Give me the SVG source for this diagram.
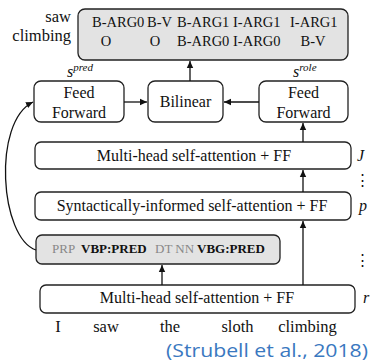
<svg xmlns="http://www.w3.org/2000/svg" width="374" height="363" viewBox="0 0 374 363">
<defs>
<style>
.box{fill:#fff;stroke:#222;stroke-width:1.3}
.gbox{fill:#e3e3e3;stroke:#222;stroke-width:1.3}
.ln{stroke:#111;stroke-width:1.3;fill:none}
</style>
<marker id="ah" markerWidth="8" markerHeight="8" refX="7" refY="4" orient="auto" markerUnits="userSpaceOnUse">
<path d="M0,0.8 L7,4 L0,7.2 Z" fill="#111"/>
</marker>
</defs>
<rect width="374" height="363" fill="#fff"/>

<g id="output">
<text x="71" y="22" font-size="16.5" text-anchor="end" style="font-family:'Liberation Serif',serif" fill="#111">saw</text>
<text x="71" y="41" font-size="16.5" text-anchor="end" style="font-family:'Liberation Serif',serif" fill="#111">climbing</text>
<rect class="gbox" x="78" y="9" width="270" height="51" rx="7"/>
<text x="92" y="27" font-size="14.5" style="font-family:'Liberation Serif',serif" fill="#111">B-ARG0</text>
<text x="147" y="27" font-size="14.5" style="font-family:'Liberation Serif',serif" fill="#111">B-V</text>
<text x="177" y="27" font-size="14.5" style="font-family:'Liberation Serif',serif" fill="#111">B-ARG1</text>
<text x="233" y="27" font-size="14.5" style="font-family:'Liberation Serif',serif" fill="#111">I-ARG1</text>
<text x="290" y="27" font-size="14.5" style="font-family:'Liberation Serif',serif" fill="#111">I-ARG1</text>
<text x="106" y="46" font-size="14.5" text-anchor="middle" style="font-family:'Liberation Serif',serif" fill="#111">O</text>
<text x="155" y="46" font-size="14.5" text-anchor="middle" style="font-family:'Liberation Serif',serif" fill="#111">O</text>
<text x="177" y="46" font-size="14.5" style="font-family:'Liberation Serif',serif" fill="#111">B-ARG0</text>
<text x="233" y="46" font-size="14.5" style="font-family:'Liberation Serif',serif" fill="#111">I-ARG0</text>
<text x="313" y="46" font-size="14.5" text-anchor="middle" style="font-family:'Liberation Serif',serif" fill="#111">B-V</text>
</g>

<g id="ff-pred">
<text x="67" y="77" font-size="16" font-style="italic" style="font-family:'Liberation Serif',serif" fill="#111">s<tspan font-size="11" dy="-6">pred</tspan></text>
<rect class="box" x="34" y="81" width="90" height="41" rx="7"/>
<text x="79" y="98" font-size="16" text-anchor="middle" style="font-family:'Liberation Serif',serif" fill="#111">Feed</text>
<text x="79" y="118" font-size="16" text-anchor="middle" style="font-family:'Liberation Serif',serif" fill="#111">Forward</text>
</g>

<g id="bilinear">
<rect class="box" x="148" y="81" width="75" height="41" rx="7"/>
<text x="185.5" y="107" font-size="16" text-anchor="middle" style="font-family:'Liberation Serif',serif" fill="#111">Bilinear</text>
</g>

<g id="ff-role">
<text x="293" y="77" font-size="16" font-style="italic" style="font-family:'Liberation Serif',serif" fill="#111">s<tspan font-size="11" dy="-6">role</tspan></text>
<rect class="box" x="259" y="81" width="89" height="41" rx="7"/>
<text x="303.5" y="98" font-size="16" text-anchor="middle" style="font-family:'Liberation Serif',serif" fill="#111">Feed</text>
<text x="303.5" y="118" font-size="16" text-anchor="middle" style="font-family:'Liberation Serif',serif" fill="#111">Forward</text>
</g>

<g id="mhsa-j">
<rect class="box" x="35" y="142" width="316" height="27" rx="6"/>
<text x="194" y="161" font-size="16" text-anchor="middle" style="font-family:'Liberation Serif',serif" fill="#111">Multi-head self-attention + FF</text>
<text x="357" y="161" font-size="16" font-style="italic" style="font-family:'Liberation Serif',serif" fill="#111">J</text>
<text x="362" y="185" font-size="15" text-anchor="middle" style="font-family:'Liberation Serif',serif" fill="#111">⋮</text>
</g>

<g id="syntactic">
<rect class="box" x="35" y="192" width="316" height="28" rx="6"/>
<text x="192" y="211" font-size="16" text-anchor="middle" style="font-family:'Liberation Serif',serif" fill="#111">Syntactically-informed self-attention + FF</text>
<text x="359" y="211" font-size="16" font-style="italic" style="font-family:'Liberation Serif',serif" fill="#111">p</text>
</g>

<g id="pos">
<rect class="gbox" x="36" y="235" width="244" height="29" rx="6"/>
<text x="52" y="253" font-size="13" style="font-family:'Liberation Serif',serif" fill="#111"><tspan fill="#888">PRP</tspan><tspan font-weight="bold" x="81">VBP:PRED</tspan><tspan fill="#888" x="155">DT NN</tspan><tspan font-weight="bold" x="197">VBG:PRED</tspan></text>
<text x="362" y="265" font-size="15" text-anchor="middle" style="font-family:'Liberation Serif',serif" fill="#111">⋮</text>
</g>

<g id="mhsa-r">
<rect class="box" x="40" y="285" width="315" height="28" rx="6"/>
<text x="197" y="303" font-size="16" text-anchor="middle" style="font-family:'Liberation Serif',serif" fill="#111">Multi-head self-attention + FF</text>
<text x="363" y="303" font-size="16" font-style="italic" style="font-family:'Liberation Serif',serif" fill="#111">r</text>
</g>

<g id="words">
<text x="58" y="332" font-size="16.5" text-anchor="middle" style="font-family:'Liberation Serif',serif" fill="#111">I</text>
<text x="106" y="332" font-size="16.5" text-anchor="middle" style="font-family:'Liberation Serif',serif" fill="#111">saw</text>
<text x="170" y="332" font-size="16.5" text-anchor="middle" style="font-family:'Liberation Serif',serif" fill="#111">the</text>
<text x="237.5" y="332" font-size="16.5" text-anchor="middle" style="font-family:'Liberation Serif',serif" fill="#111">sloth</text>
<text x="307.5" y="332" font-size="16.5" text-anchor="middle" style="font-family:'Liberation Serif',serif" fill="#111">climbing</text>
</g>

<g id="citation">
<text x="166" y="357" style="font-family:'Open Sans','Noto Sans',sans-serif" fill="#3a78c0" font-size="18.5" textLength="202" lengthAdjust="spacingAndGlyphs">(Strubell et al., 2018)</text>
</g>

<g id="connectors">
<path class="ln" d="M190,81 V61" marker-end="url(#ah)"/>
<path class="ln" d="M124,102 H147" marker-end="url(#ah)"/>
<path class="ln" d="M259,102 H224" marker-end="url(#ah)"/>
<path class="ln" d="M303,142 V123" marker-end="url(#ah)"/>
<path class="ln" d="M303,192 V170" marker-end="url(#ah)"/>
<path class="ln" d="M303,285 V221" marker-end="url(#ah)"/>
<path class="ln" d="M162,285 V265" marker-end="url(#ah)"/>
<path class="ln" d="M36,250 C0,238 -8,122 33,102" marker-end="url(#ah)"/>
</g>
</svg>
